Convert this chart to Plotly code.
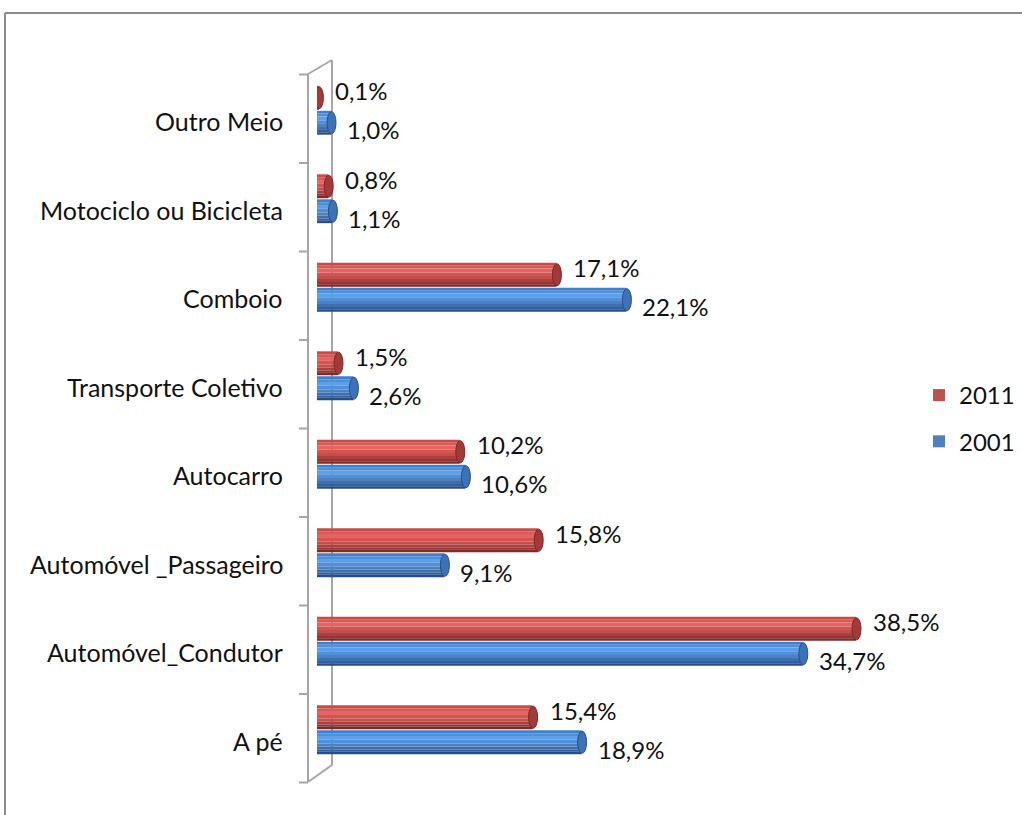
import plotly.graph_objects as go

# Modal split of commuting trips, 2001 vs 2011 (%)
categories = ["A pé", "Automóvel_Condutor", "Automóvel _Passageiro", "Autocarro",
              "Transporte Coletivo", "Comboio", "Motociclo ou Bicicleta", "Outro Meio"]
values_2011 = [15.4, 38.5, 15.8, 10.2, 1.5, 17.1, 0.8, 0.1]
values_2001 = [18.9, 34.7, 9.1, 10.6, 2.6, 22.1, 1.1, 1.0]
label_2011 = ["15,4%", "38,5%", "15,8%", "10,2%", "1,5%", "17,1%", "0,8%", "0,1%"]
label_2001 = ["18,9%", "34,7%", "9,1%", "10,6%", "2,6%", "22,1%", "1,1%", "1,0%"]

W, H = 1022, 815
ML, MR, MT, MB = 317, 5, 66, 41
PW, PH = W - ML - MR, H - MT - MB
FONT = "Lato"

ypos = list(range(len(categories)))
BAR_H = 0.27


def px_x(px):
    return (px - ML) / PW


def px_y(py):
    return (H - MB - py) / PH


fig = go.Figure()

# Cylinder shading: horizontal bands from the top edge (0) to the bottom edge (1)
red_bands = [(0.00, 0.12, "#C94B48"), (0.12, 0.24, "#DA5956"), (0.24, 0.40, "#E26562"),
             (0.40, 0.55, "#D5544F"), (0.55, 0.68, "#C0504D"), (0.68, 0.80, "#AC403D"),
             (0.80, 0.90, "#963432"), (0.90, 1.00, "#7E2A28")]
blue_bands = [(0.00, 0.12, "#3F80CC"), (0.12, 0.24, "#4E90DC"), (0.24, 0.40, "#5DA0E8"),
              (0.40, 0.55, "#5090DA"), (0.55, 0.68, "#4F81BD"), (0.68, 0.80, "#3E70B0"),
              (0.80, 0.90, "#335F9C"), (0.90, 1.00, "#284E84")]

series = [
    ("2011", values_2011, 0.006, red_bands, "#C0504D", "#A23A37", "#7A2826"),
    ("2001", values_2001, -0.276, blue_bands, "#4F81BD", "#3D72B8", "#2A4F85"),
]
shapes = []
for name, vals, off, bands, legend_col, cap_fill, cap_line in series:
    top = off + BAR_H
    for f0, f1, col in bands:
        fig.add_trace(go.Bar(
            x=vals, y=ypos, orientation="h", name=name,
            offset=top - f1 * BAR_H, width=(f1 - f0) * BAR_H, base=0,
            marker=dict(color=col, line=dict(width=0)),
            showlegend=(col == legend_col), legendgroup=name, hoverinfo="skip",
        ))
    # elliptical end face of each cylinder
    for i, v in zip(ypos, vals):
        shapes.append(dict(type="circle", xref="x", yref="y", xsizemode="pixel",
                           xanchor=v, x0=-4, x1=5, y0=i + off + 0.01, y1=i + top - 0.01,
                           fillcolor=cap_fill, line=dict(color=cap_line, width=1)))

annotations = []
# value labels next to the bar ends
for i in ypos:
    annotations.append(dict(x=values_2011[i], y=i + 0.141, text=label_2011[i],
                            xref="x", yref="y", xanchor="left", yanchor="middle",
                            xshift=15, yshift=7, showarrow=False,
                            font=dict(family=FONT, size=24, color="#111111")))
    annotations.append(dict(x=values_2001[i], y=i - 0.141, text=label_2001[i],
                            xref="x", yref="y", xanchor="left", yanchor="middle",
                            xshift=14, yshift=-7, showarrow=False,
                            font=dict(family=FONT, size=24, color="#111111")))
# category labels
for i, c in enumerate(categories):
    annotations.append(dict(x=px_x(285), y=i, text=c, xref="paper", yref="y",
                            xanchor="right", yanchor="middle", yshift=-11,
                            showarrow=False,
                            font=dict(family=FONT, size=25, color="#111111")))

wall = dict(color="#A6A6A6", width=2)
shapes += [
    # outer chart frame
    dict(type="line", xref="paper", yref="paper", x0=px_x(5), x1=px_x(1030),
         y0=px_y(13), y1=px_y(13), line=dict(color="#8C8C8C", width=2)),
    dict(type="line", xref="paper", yref="paper", x0=px_x(5), x1=px_x(5),
         y0=px_y(13), y1=px_y(830), line=dict(color="#8C8C8C", width=2)),
    # 3D side wall of the category axis
    dict(type="line", xref="paper", yref="paper", x0=px_x(332), x1=px_x(332),
         y0=px_y(60), y1=px_y(765), line=wall, layer="below"),
    dict(type="line", xref="paper", yref="paper", x0=px_x(308), x1=px_x(308),
         y0=px_y(74), y1=px_y(782), line=wall, layer="below"),
    dict(type="line", xref="paper", yref="paper", x0=px_x(308), x1=px_x(332),
         y0=px_y(74), y1=px_y(60), line=wall, layer="below"),
    dict(type="line", xref="paper", yref="paper", x0=px_x(308), x1=px_x(332),
         y0=px_y(782), y1=px_y(765), line=wall, layer="below"),
]
# tick marks on the front edge, between categories
for k in range(len(categories) + 1):
    yp = k / len(categories) - 8.5 / PH
    shapes.append(dict(type="line", xref="paper", yref="paper",
                       x0=px_x(299), x1=px_x(308), y0=yp, y1=yp, line=wall))

fig.update_layout(
    width=W, height=H,
    margin=dict(l=ML, r=MR, t=MT, b=MB, pad=0, autoexpand=False),
    paper_bgcolor="white", plot_bgcolor="rgba(0,0,0,0)",
    barmode="overlay",
    xaxis=dict(range=[0, PW / 14.0], visible=False, fixedrange=True),
    yaxis=dict(range=[-0.5, len(categories) - 0.5], visible=False, fixedrange=True),
    showlegend=True,
    legend=dict(x=px_x(919), y=px_y(373), xanchor="left", yanchor="top",
                font=dict(family=FONT, size=24, color="#111111"),
                bgcolor="rgba(0,0,0,0)", traceorder="grouped",
                tracegroupgap=12, itemwidth=30),
    annotations=annotations,
    shapes=shapes,
    font=dict(family=FONT),
)

fig.write_html("out.html")
